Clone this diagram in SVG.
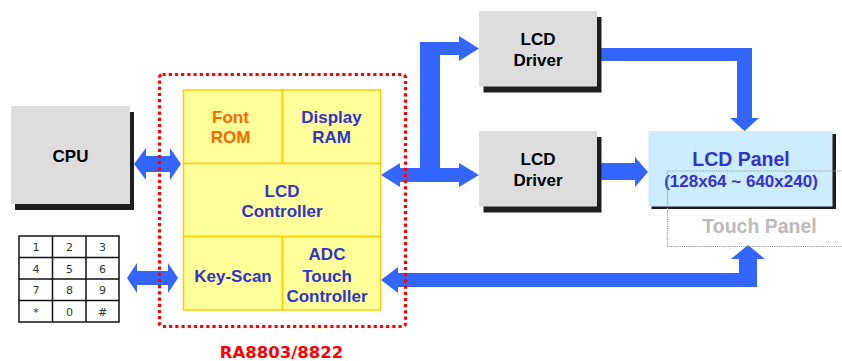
<svg xmlns="http://www.w3.org/2000/svg" width="842" height="361" viewBox="0 0 842 361">
<defs>
<style>
.t{font-family:"Liberation Sans",Arial,sans-serif;font-weight:bold;font-size:17px;text-anchor:middle}
.blk{fill:#000}
.blu{fill:#3333CC}
.org{fill:#FF6600}
.gray{fill:#DDDDDD}
.shd{fill:#1E1E1E}
.arr{fill:#3366FF}
.cell{fill:#FFFF99;stroke:#FFCC00;stroke-width:1.5}
.kp{font-family:"DejaVu Sans",Verdana,sans-serif;font-size:11px;text-anchor:middle;fill:#333}
</style>
</defs>
<rect width="842" height="361" fill="#fff"/>
<g id="connectors">
<polygon class="arr" points="134,164 146,148 146,156 170,156 170,148 181,164 170,180 170,172 146,172 146,180"/>
<polygon class="arr" points="127,278 137,263 137,271 168,271 168,263 178,278 168,293 168,285 137,285 137,293"/>
<polygon class="arr" points="381,175 400,163 400,168 420,168 420,42 459,42 459,36 479,48.5 459,61 459,55 440,55 440,168 459,168 459,163 479,175 459,187 459,182 400,182 400,187"/>
<polygon class="arr" points="601,48 752,48 752,118 759,118 744.5,131 730,118 737,118 737,61 601,61"/>
<polygon class="arr" points="601,163 635,163 635,157 648,172 635,187 635,180 601,180"/>
<polygon class="arr" points="381,280 398,267 398,273 739,273 739,259 731,259 748,245 765,259 757,259 757,287 398,287 398,293"/>
</g>
<g id="cpu">
<rect class="shd" x="15" y="112" width="119" height="98"/>
<rect class="gray" x="11" y="106" width="119" height="98"/>
<text class="t blk" x="70.5" y="162">CPU</text>
</g>
<g id="keypad">
<rect x="19" y="236" width="100" height="86" fill="#fff" stroke="#111" stroke-width="1.5"/>
<path d="M52.5 236V322M86 236V322M19 257.5H119M19 279H119M19 300.5H119" stroke="#111" stroke-width="1.5" fill="none"/>
<text class="kp" x="36" y="251">1</text><text class="kp" x="69.5" y="251">2</text><text class="kp" x="102.5" y="251">3</text>
<text class="kp" x="36" y="272.5">4</text><text class="kp" x="69.5" y="272.5">5</text><text class="kp" x="102.5" y="272.5">6</text>
<text class="kp" x="36" y="294">7</text><text class="kp" x="69.5" y="294">8</text><text class="kp" x="102.5" y="294">9</text>
<text class="kp" x="36" y="315.5">*</text><text class="kp" x="69.5" y="315.5">0</text><text class="kp" x="102.5" y="315.5">#</text>
</g>
<g id="chip">
<rect x="159.5" y="74.5" width="246" height="252" rx="3" fill="none" stroke="#FF0000" stroke-width="3.2" stroke-dasharray="3.2 3"/>
<rect class="cell" x="183.5" y="90" width="99" height="73.5"/>
<rect class="cell" x="282.5" y="90" width="98" height="73.5"/>
<rect class="cell" x="183.5" y="163.5" width="197" height="73"/>
<rect class="cell" x="183.5" y="236.5" width="99" height="73.5"/>
<rect class="cell" x="282.5" y="236.5" width="98" height="73.5"/>
<text class="t org" x="230.5" y="123">Font</text>
<text class="t org" x="230.5" y="143">ROM</text>
<text class="t blu" x="331.5" y="123">Display</text>
<text class="t blu" x="331.5" y="143">RAM</text>
<text class="t blu" x="282" y="197">LCD</text>
<text class="t blu" x="282" y="217">Controller</text>
<text class="t blu" x="233" y="281.5">Key-Scan</text>
<text class="t blu" x="327" y="260">ADC</text>
<text class="t blu" x="327" y="281.5">Touch</text>
<text class="t blu" x="327" y="302">Controller</text>
<text x="281.5" y="357.5" style="font-family:'DejaVu Sans',Verdana,sans-serif;font-weight:bold;font-size:16.5px;text-anchor:middle" fill="#FF0000">RA8803/8822</text>
</g>
<g id="driver1">
<rect class="shd" x="483.5" y="17" width="118" height="75.5"/>
<rect class="gray" x="479" y="11" width="118" height="75.5"/>
<text class="t blk" x="538" y="45">LCD</text>
<text class="t blk" x="538" y="66">Driver</text>
</g>
<g id="driver2">
<rect class="shd" x="483.5" y="137" width="118" height="75.5"/>
<rect class="gray" x="479" y="131" width="118" height="75.5"/>
<text class="t blk" x="538" y="165">LCD</text>
<text class="t blk" x="538" y="186">Driver</text>
</g>
<g id="lcd-panel">
<rect class="shd" x="651.5" y="134" width="184.5" height="75"/>
<rect x="648.5" y="131" width="184" height="75.5" fill="#CCECFF"/>
<text class="t blu" x="741" y="165.5" style="font-size:19.5px">LCD Panel</text>
<text class="t blu" x="741" y="187">(128x64 ~ 640x240)</text>
</g>
<g id="touch-panel">
<rect x="667.5" y="171" width="190" height="75.5" fill="none" stroke="#999" stroke-width="1.2" stroke-dasharray="1.2 1"/>
<text class="t" x="759.5" y="233" style="font-size:19.5px" fill="#BBBBBB">Touch Panel</text>
</g>
</svg>
